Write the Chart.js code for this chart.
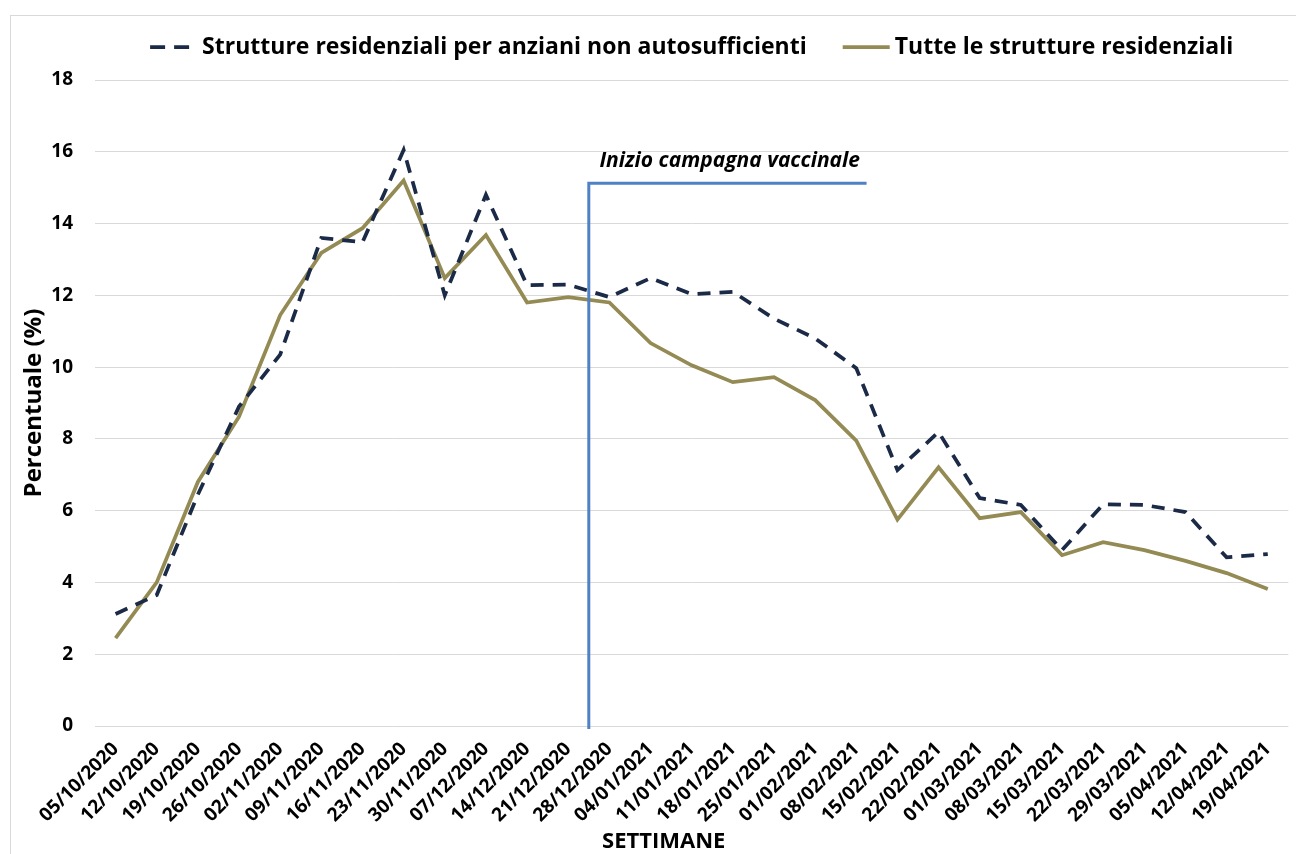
<!DOCTYPE html>
<html>
<head>
<meta charset="utf-8">
<script src="https://cdn.jsdelivr.net/npm/chart.js@4.4.0/dist/chart.umd.min.js"></script>
<style>
  body { margin: 0; background: #fff; }
  canvas { display: block; }
</style>
</head>
<body>
<canvas id="grafico" width="1296" height="854"></canvas>
<script>
// settimane (asse x)
const settimane = [
  '05/10/2020', '12/10/2020', '19/10/2020', '26/10/2020', '02/11/2020', '09/11/2020',
  '16/11/2020', '23/11/2020', '30/11/2020', '07/12/2020', '14/12/2020', '21/12/2020',
  '28/12/2020', '04/01/2021', '11/01/2021', '18/01/2021', '25/01/2021', '01/02/2021',
  '08/02/2021', '15/02/2021', '22/02/2021', '01/03/2021', '08/03/2021', '15/03/2021',
  '22/03/2021', '29/03/2021', '05/04/2021', '12/04/2021', '19/04/2021'
];

// percentuali
const anzianiNonAuto = [
  3.12, 3.65, 6.45, 8.9, 10.35, 13.6, 13.48, 16.05, 12.0, 14.8, 12.28, 12.3, 11.95,
  12.48, 12.03, 12.1, 11.35, 10.8, 9.97, 7.13, 8.19, 6.35, 6.16, 4.9, 6.18, 6.16, 5.96,
  4.7, 4.79
];
const tutteStrutture = [
  2.45, 4.0, 6.8, 8.62, 11.45, 13.18, 13.87, 15.2, 12.48, 13.68, 11.8, 11.95, 11.8,
  10.67, 10.05, 9.58, 9.72, 9.08, 7.95, 5.75, 7.21, 5.79, 5.96, 4.76, 5.12, 4.9, 4.6,
  4.26, 3.82
];

const nomiSerie = ['Strutture residenziali per anziani non autosufficienti', 'Tutte le strutture residenziali'];
const yTicks = [0, 2, 4, 6, 8, 10, 12, 14, 16, 18];

// inizio campagna vaccinale (tra 21/12 e 28/12)
const vaccinoX = 11.5;
const vaccinoFineX = 18.25;
const vaccinoY = 15.12;
const vaccinoTesto = 'Inizio campagna vaccinale';

const FONT = '"Open Sans"';

const cornice = {
  id: 'cornice',
  beforeDraw(chart) {
    const ctx = chart.ctx;
    ctx.save();
    ctx.fillStyle = '#fff';
    ctx.fillRect(0, 0, chart.width, chart.height);
    ctx.strokeStyle = '#d9d9d9';
    ctx.lineWidth = 1;
    ctx.strokeRect(10.5, 15.5, chart.width + 10, chart.height + 10);
    ctx.restore();
  }
};

const vaccino = {
  id: 'vaccino',
  afterDatasetsDraw(chart) {
    const { ctx, scales: { x, y } } = chart;
    const x0 = x.getPixelForValue(vaccinoX);
    const x1 = x.getPixelForValue(vaccinoFineX);
    const yTop = y.getPixelForValue(vaccinoY);
    const yBot = y.getPixelForValue(0) + 3;
    ctx.save();
    ctx.strokeStyle = '#4f81c4';
    ctx.lineWidth = 3;
    ctx.beginPath();
    ctx.moveTo(x0, yBot);
    ctx.lineTo(x0, yTop);
    ctx.lineTo(x1, yTop);
    ctx.stroke();
    ctx.fillStyle = '#000';
    ctx.font = `italic bold 21px ${FONT}`;
    ctx.textAlign = 'center';
    ctx.textBaseline = 'middle';
    ctx.fillText(vaccinoTesto, (x0 + x1) / 2 + 2, yTop - 22);
    ctx.restore();
  }
};

// legenda e titolo asse x disegnati a mano
const legenda = {
  id: 'legenda',
  afterDraw(chart) {
    const ctx = chart.ctx;
    const area = chart.chartArea;
    ctx.save();
    ctx.font = `bold 23px ${FONT}`;
    const simbolo = 47, spazio = 5, traVoci = 36;
    const larghezze = chart.data.datasets.map(ds => ctx.measureText(ds.label).width);
    const totale = larghezze.reduce((a, w) => a + simbolo + spazio + w, 0) + traVoci * (larghezze.length - 1);
    let x = (area.left + area.right) / 2 - totale / 2;
    const y = 47;
    chart.data.datasets.forEach((ds, i) => {
      ctx.strokeStyle = ds.borderColor;
      ctx.lineWidth = ds.borderWidth;
      ctx.setLineDash(ds.borderDash ? [15, 9] : []);
      ctx.beginPath();
      ctx.moveTo(x, y);
      ctx.lineTo(x + simbolo, y);
      ctx.stroke();
      ctx.setLineDash([]);
      ctx.fillStyle = '#000';
      ctx.textAlign = 'left';
      ctx.textBaseline = 'middle';
      ctx.fillText(ds.label, x + simbolo + spazio, y);
      x += simbolo + spazio + larghezze[i] + traVoci;
    });

    ctx.font = `bold 22px ${FONT}`;
    ctx.textAlign = 'center';
    ctx.textBaseline = 'middle';
    ctx.fillText('SETTIMANE', (area.left + area.right) / 2 - 28, chart.height - 12);
    ctx.restore();
  }
};

const ctx = document.getElementById('grafico').getContext('2d');

new Chart(ctx, {
  type: 'line',
  data: {
    labels: settimane,
    datasets: [
      {
        label: nomiSerie[0],
        data: anzianiNonAuto,
        borderColor: '#1b2a47',
        borderWidth: 3.75,
        borderDash: [13, 9],
        pointRadius: 0,
        tension: 0,
        fill: false
      },
      {
        label: nomiSerie[1],
        data: tutteStrutture,
        borderColor: '#948a54',
        borderWidth: 3.75,
        pointRadius: 0,
        tension: 0,
        fill: false
      }
    ]
  },
  options: {
    responsive: false,
    animation: false,
    layout: { padding: { top: 80, left: 20, right: 6, bottom: 0 } },
    plugins: {
      legend: { display: false },
      tooltip: { enabled: false }
    },
    scales: {
      x: {
        offset: true,
        grid: { display: false, drawTicks: false },
        border: { display: false },
        ticks: {
          autoSkip: false,
          maxRotation: 45,
          minRotation: 45,
          padding: 12,
          color: '#000',
          font: { family: FONT, size: 19, weight: 'bold' }
        },
        afterFit(scale) { scale.height = 128; }
      },
      y: {
        min: 0,
        max: 18,
        afterBuildTicks(scale) { scale.ticks = yTicks.map(v => ({ value: v })); },
        grid: { color: '#d9d9d9', lineWidth: 1, drawTicks: false },
        border: { display: false },
        ticks: {
          padding: 22,
          color: '#000',
          font: { family: FONT, size: 19, weight: 'bold' }
        },
        title: {
          display: true,
          text: 'Percentuale (%)',
          color: '#000',
          padding: 0,
          font: { family: FONT, size: 24, weight: 'bold' }
        },
        afterFit(scale) { scale.width = 75; }
      }
    }
  },
  plugins: [cornice, vaccino, legenda]
});
</script>
</body>
</html>
